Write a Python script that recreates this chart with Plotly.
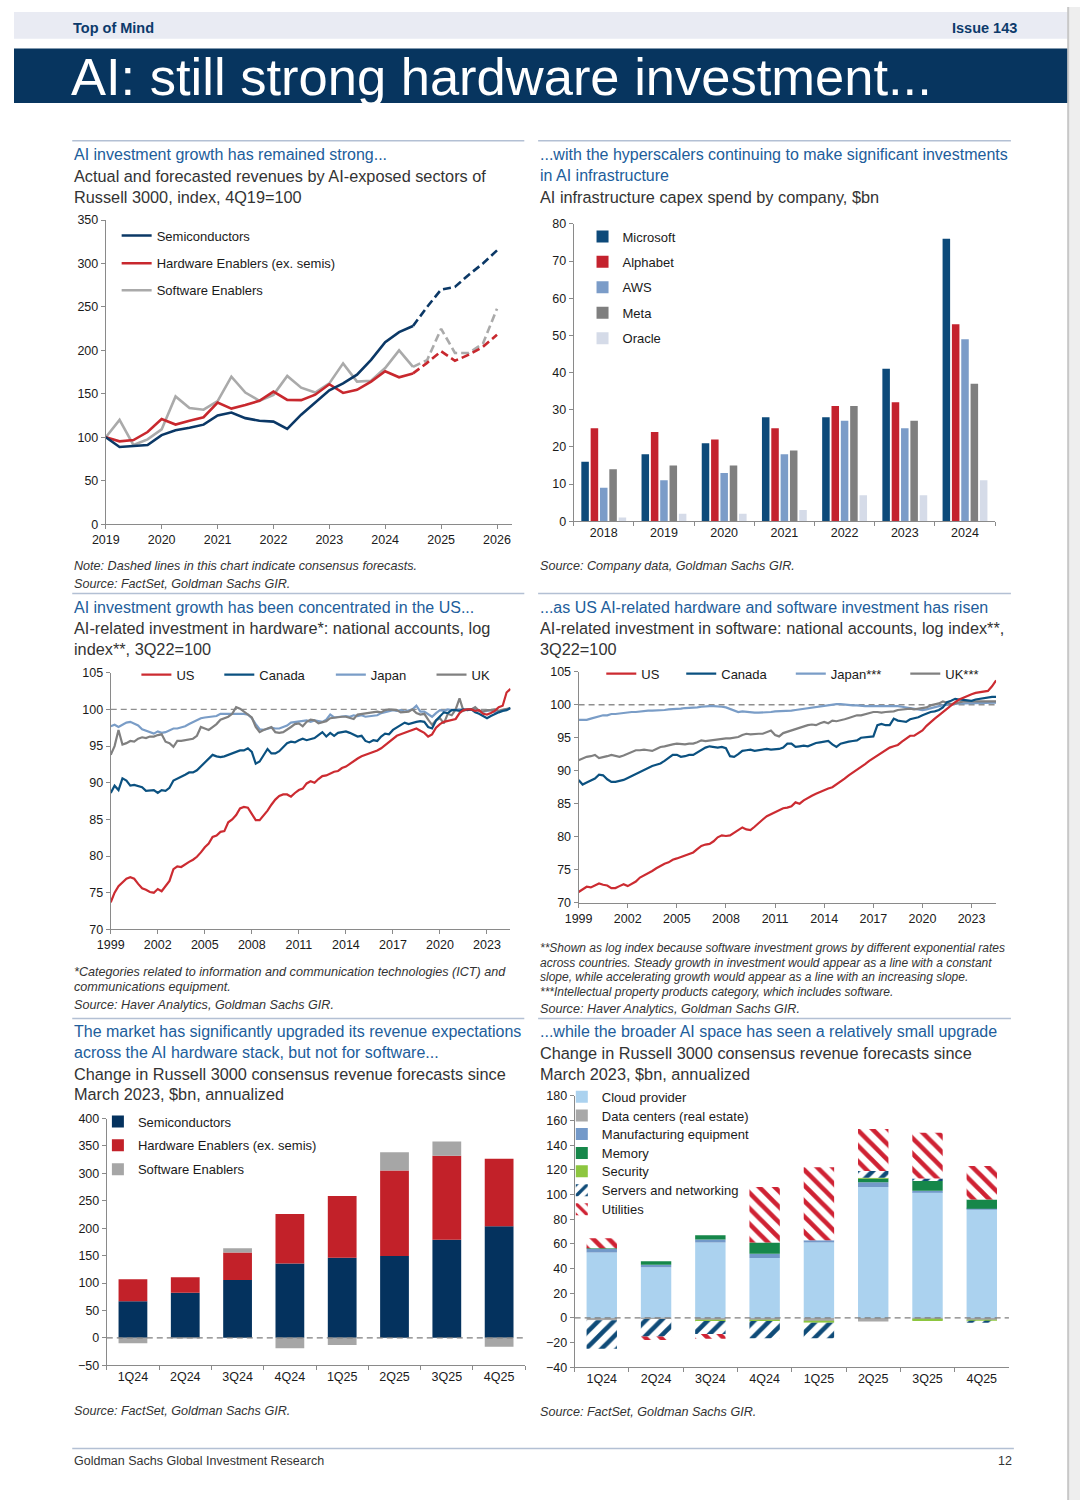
import numpy as np
import pandas as pd
import plotly.graph_objects as go

W, H = 1080, 1507
FONT = "Liberation Sans, Arial, Helvetica, sans-serif"

# ---------------- Chart 1: revenue index (quarterly, 2019 -> 2026) ----------------
c1_start = "2019-01-01"
c1_last_actual = 22
semis_idx = [100, 88.8, 90, 91, 102.5, 108, 111, 114.5, 125, 128.5, 122, 119, 118, 109.7,
             126, 140, 154, 162, 172, 189, 209.5, 221, 228, 250, 270, 273, 287, 300, 315]
hwen_idx = [100, 95.3, 96.8, 106, 121, 114.6, 119, 123, 140, 133, 137, 142, 152.6, 143,
            142.7, 149, 161, 151, 154.5, 164, 176, 169, 173.5, 185.6, 199, 188, 195, 204, 218]
swen_idx = [100, 120, 91, 97.5, 109, 147, 133.6, 131.7, 141.6, 169.7, 151.5, 142, 148.8, 170.5,
            157, 151.5, 162, 185, 164, 165, 179.6, 200, 181, 188.7, 224.8, 197, 197, 207.7, 248]

# ---------------- Chart 2: capex by company ----------------
capex_years = ["2018", "2019", "2020", "2021", "2022", "2023", "2024"]
microsoft = [16, 18, 21, 28, 28, 41, 76]
alphabet = [25, 24, 22, 25, 31, 32, 53]
aws = [9, 11, 13, 18, 27, 25, 49]
meta = [14, 15, 15, 19, 31, 27, 37]
oracle = [1, 2, 2, 3, 7, 7, 11]

# ---------------- Chart 3: hardware investment, log index (quarterly 1999Q1 -> 2024Q3) ----------------
log_start = "1999-01-01"
us_hw = [73.7, 75.0, 75.9, 76.4,
         76.9, 77.1, 76.9, 76.2,
         75.6, 75.4, 75.1, 75.0,
         75.5, 75.2, 75.9, 76.6,
         78.2, 78.6, 78.5, 78.9,
         79.2, 79.5, 79.9, 80.5,
         81.2, 81.7, 82.6, 82.8,
         83.3, 83.4, 84.6, 85.0,
         85.6, 86.5, 86.7, 86.6,
         85.8, 84.9, 84.9, 85.5,
         86.2, 87.0, 87.7, 88.2,
         88.4, 88.4, 88.1, 88.6,
         89.0, 89.2, 89.9, 90.2,
         90.0, 90.5, 90.9, 91.0,
         91.3, 91.5, 91.6, 92.0,
         92.2, 92.6, 92.9, 93.3,
         93.6, 93.8, 93.9, 94.1,
         94.4, 94.7, 95.1, 95.5,
         96.0, 96.4, 96.6, 96.8,
         97.0, 97.3, 97.4, 97.1,
         96.8, 96.3, 96.6, 97.5,
         98.0, 98.3, 98.4, 98.6,
         98.7, 99.5, 99.9, 100.0,
         100.0, 99.8, 99.9, 99.4,
         99.3, 99.5, 99.8, 100.3,
         100.5, 102.3, 102.8]
canada_hw = [88.6, 89.6, 89.0, 90.6,
             90.3, 89.6, 89.7, 89.5,
             89.4, 88.9, 88.9, 89.0,
             88.6, 89.0, 88.9, 89.3,
             90.3, 90.6, 90.8, 91.1,
             91.4, 91.4, 91.7, 92.2,
             92.8, 93.3, 93.8, 93.6,
             93.5, 93.6, 93.8, 93.9,
             94.1, 94.4, 94.4, 94.7,
             94.2, 92.6, 92.9, 93.8,
             94.6, 94.0, 94.0, 94.3,
             94.8, 95.4, 95.6, 95.5,
             95.8, 96.0, 95.8, 96.0,
             96.1, 96.5, 96.9, 96.3,
             96.8, 96.4, 96.8, 96.9,
             97.0, 96.8, 96.6, 96.3,
             96.4, 95.7, 95.5, 95.8,
             95.7, 96.3, 96.7, 96.6,
             97.2, 97.5, 97.8, 98.2,
             98.0, 98.2, 98.3, 98.4,
             98.3, 97.6, 97.4, 98.5,
             99.1, 99.6, 99.5, 99.9,
             99.9, 99.8, 100.0, 99.9,
             100.0, 99.6, 99.4, 99.1,
             98.8, 99.1, 99.4, 99.6,
             99.8, 99.9, 100.2]
japan_hw = [97.7, 97.9, 97.6, 97.9,
            98.2, 98.3, 98.1, 97.8,
            97.3, 97.1, 96.8, 96.7,
            97.0, 96.8, 96.9, 97.1,
            97.4, 97.4, 97.5, 97.7,
            98.0, 98.3, 98.6, 98.8,
            98.9, 99.0, 99.0, 99.1,
            99.4, 99.4, 99.5, 99.4,
            99.5, 99.5, 99.4, 99.3,
            98.8, 98.0, 97.3, 97.2,
            97.4, 97.5, 97.4, 97.4,
            97.6, 97.8, 98.2, 98.3,
            98.3, 98.4, 98.5, 98.3,
            98.5, 98.4, 98.3, 98.6,
            99.3, 98.9, 99.0, 99.0,
            99.1, 99.0, 99.2, 99.1,
            99.2, 99.0, 99.1, 99.2,
            99.2, 99.5, 99.6, 99.7,
            99.9, 99.8, 99.9, 99.7,
            99.9, 100.0, 100.5, 99.7,
            99.7, 99.3, 99.0, 99.5,
            99.9, 99.8, 100.0, 99.9,
            100.0, 100.0, 99.9, 100.0,
            100.0, 100.1, 99.8, 99.7,
            99.8, 99.9, 99.6, 99.8,
            99.9, 100.0, 100.1]
uk_hw = [93.8, 95.0, 97.2, 95.2,
         95.4, 95.7, 95.6, 96.0,
         96.2, 96.1, 96.3, 96.3,
         96.5, 96.6, 95.6, 95.4,
         94.9, 95.7, 95.7, 95.8,
         95.8, 96.0, 96.4, 97.6,
         97.4, 97.2, 97.6, 98.0,
         98.6, 98.8, 99.0, 99.4,
         100.3, 100.1, 99.7, 99.3,
         98.9, 97.6, 96.9, 97.2,
         97.4, 97.6, 96.9, 96.8,
         96.9, 97.2, 97.6, 98.0,
         98.1, 97.7, 98.3, 98.6,
         98.5, 98.1, 98.3, 98.4,
         98.8, 98.9, 98.9, 99.0,
         99.0, 98.8, 98.7, 99.3,
         99.4, 99.4, 99.6, 99.7,
         99.7, 99.6, 99.9, 100.0,
         99.9, 99.9, 99.6, 99.6,
         99.7, 100.0, 99.5, 99.3,
         99.4, 98.6, 97.9, 98.5,
         98.8, 98.1, 99.4, 99.2,
         100.0, 101.5, 99.8, 100.0,
         100.0, 100.3, 99.8, 99.7,
         99.9, 99.9, 100.0, 99.8,
         99.9, 100.0, 100.2]

# ---------------- Chart 4: software investment, log index ----------------
us_sw = [71.6, 72.0, 72.4, 72.3,
         72.6, 72.9, 72.7, 72.6,
         72.2, 72.2, 72.5, 72.8,
         72.5, 72.8, 73.2, 73.8,
         74.1, 74.5, 74.8, 75.2,
         75.6, 75.9, 76.1, 76.5,
         76.7, 76.9, 77.1, 77.3,
         77.6, 78.1, 78.6, 78.8,
         78.9, 79.3, 79.9, 80.2,
         80.1, 80.2, 80.6, 81.0,
         81.4, 81.1, 81.0, 81.5,
         82.1, 82.6, 83.1, 83.4,
         83.6, 84.0, 84.3, 84.4,
         84.6, 85.2, 85.0, 85.5,
         85.9, 86.2, 86.5, 86.8,
         87.1, 87.3, 87.5, 87.9,
         88.4, 88.8, 89.3, 89.7,
         90.1, 90.6, 91.0, 91.5,
         91.9, 92.3, 92.8, 93.2,
         93.5, 93.7, 93.9, 94.4,
         94.9, 95.3, 95.3, 95.7,
         96.1, 96.8, 97.4, 97.9,
         98.4, 98.9, 99.5, 100.0,
         100.4, 100.8, 101.1, 101.4,
         101.6, 101.8, 101.9, 102.0,
         102.1, 102.8, 103.7]
canada_sw = [88.6, 87.9, 88.2, 88.5,
             88.8, 89.4, 89.3, 88.7,
             88.3, 88.3, 88.4, 88.6,
             88.9, 89.2, 89.5, 89.8,
             90.1, 90.5, 90.7, 90.9,
             91.1, 91.5, 92.0, 92.4,
             92.4, 92.1, 92.2, 92.4,
             92.4, 92.8, 93.2, 93.5,
             93.7, 93.6, 93.5, 93.6,
             93.4, 92.2, 92.1, 92.5,
             93.0, 93.1, 93.2, 93.0,
             93.1, 93.2, 93.3, 93.2,
             93.2, 93.3, 93.5, 94.1,
             94.1, 93.6, 93.7, 93.8,
             93.7, 94.0, 94.2, 94.3,
             94.4, 94.5, 94.0, 93.6,
             94.1, 94.3, 94.4, 94.5,
             94.6, 95.0, 95.1, 95.1,
             95.2, 96.9, 97.1, 96.9,
             96.9, 97.9, 97.6, 97.5,
             97.4, 97.8, 97.9, 98.1,
             98.4, 98.7, 98.9, 99.0,
             99.2, 99.6, 100.4, 100.6,
             100.9, 100.8, 100.7, 100.6,
             100.6, 100.8, 100.9, 101.0,
             101.2, 101.2, 101.2]
japan_sw = [97.7, 97.7, 97.7, 97.9,
            98.1, 98.2, 98.4, 98.4,
            98.6, 98.6, 98.7, 98.8,
            98.8, 98.9, 98.9, 99.0,
            99.0, 99.1, 99.1, 99.1,
            99.2, 99.2, 99.3, 99.3,
            99.4, 99.4, 99.5, 99.5,
            99.6, 99.6, 99.7, 99.8,
            99.8, 99.8, 99.8, 99.7,
            99.6, 99.4, 99.2, 98.9,
            99.0, 98.9, 98.9, 98.8,
            98.8, 98.8, 98.9, 98.9,
            99.0, 99.0, 99.1, 99.1,
            99.1, 99.2, 99.3, 99.4,
            99.5, 99.6, 99.7, 99.8,
            99.9, 100.0, 100.0, 100.1,
            100.1, 100.0, 99.9, 99.9,
            99.9, 99.8, 99.8, 99.8,
            99.8, 99.8, 99.8, 99.9,
            99.9, 99.8, 99.8, 99.7,
            99.6, 99.5, 99.4, 99.3,
            99.2, 99.3, 99.5, 99.7,
            99.8, 99.9, 100.0, 100.1,
            100.1, 100.2, 100.2, 100.2,
            100.2, 100.2, 100.3, 100.3,
            100.3, 100.3, 100.3]
uk_sw = [91.6, 91.9, 92.1, 92.2,
         92.4, 91.9, 92.0, 92.2,
         92.4, 92.3, 92.1, 92.3,
         92.6, 92.8, 93.1, 93.1,
         93.2, 93.1, 93.0, 93.3,
         93.6, 93.7, 93.9, 94.0,
         94.1, 94.0, 94.0, 94.1,
         94.1, 94.3, 94.6, 94.5,
         94.6, 94.7, 94.8, 94.9,
         94.9, 94.9, 95.0, 95.1,
         95.4, 95.6, 95.5, 95.6,
         95.6, 95.6, 95.8, 96.1,
         95.4, 95.2, 95.7, 95.9,
         96.1, 96.4, 96.6, 96.7,
         96.9, 97.0, 96.9, 97.2,
         97.4, 97.2, 97.6, 97.5,
         97.6, 97.8, 98.0, 98.2,
         98.4, 98.4, 98.6, 98.8,
         98.9, 98.9, 98.8, 98.9,
         98.9, 99.0, 99.2, 99.3,
         99.4, 99.4, 99.3, 99.4,
         99.4, 99.6, 99.9, 100.0,
         100.2, 100.5, 100.3, 100.1,
         100.2, 100.4, 100.5, 100.5,
         100.5, 100.6, 100.5, 100.5,
         100.5, 100.5, 100.5]

# ---------------- Chart 5: revenue forecast changes (AI stack) ----------------
quarters = ["1Q24", "2Q24", "3Q24", "4Q24", "1Q25", "2Q25", "3Q25", "4Q25"]
semis_chg = [67, 82.5, 105.5, 135.5, 146, 149.5, 179, 203.5]
hwen_chg = [40, 28, 50, 90.5, 113, 156, 153, 123]
swen_chg = [-10, -1, 8, -19, -13, 33, 26, -16]

# ---------------- Chart 6: revenue forecast changes (broader AI space) ----------------
cloud_chg = [53, 41, 61, 48.5, 61, 106, 102, 88]
datacenter_chg = [-2, -1, -2, -2, -3, -3, -1.5, -2]
manufacturing_chg = [3, 2, 2.5, 3.5, 2, 4, 1, 0.5]
memory_chg = [0.5, 3, 3.5, 9, 0, 3, 8, 7.5]
security_chg = [0, 0, -0.5, -0.5, -1, 0.5, -1, -1]
servers_chg = [-23, -14, -10.5, -14, -12.5, 5.5, 2, -1]
utilities_chg = [8, -3, -4, 45, 59, 34, 37, 27]

# =====================================================================
def px_x(p):
    return p / W


def px_y(p):
    return 1 - p / H


fig = go.Figure()
annotations = []
shapes = []
legends = {}
LEG_TX = 41  # distance from legend box left edge to item text


def new_legend(text_x, y_px, size=13):
    n = len(legends) + 1
    name = "legend" if n == 1 else "legend%d" % n
    legends[name] = dict(x=px_x(text_x - LEG_TX), y=px_y(y_px), xanchor="left", yanchor="middle",
                         bgcolor="rgba(0,0,0,0)", borderwidth=0, orientation="v",
                         font=dict(family=FONT, size=size, color="#1a1a1a"),
                         itemclick=False, itemdoubleclick=False)
    return name


def text(x, y, s, size=16, color="#333333", family=FONT, xanchor="left", italic=False, bold=False):
    if italic:
        s = "<i>%s</i>" % s
    if bold:
        s = "<b>%s</b>" % s
    annotations.append(dict(xref="paper", yref="paper", x=px_x(x), y=px_y(y), text=s, showarrow=False,
                            xanchor=xanchor, yanchor="middle", align="left",
                            font=dict(family=family, size=size, color=color)))


def rect(x0, y0, x1, y1, color):
    shapes.append(dict(type="rect", xref="paper", yref="paper", x0=px_x(x0), x1=px_x(x1),
                       y0=px_y(y1), y1=px_y(y0), fillcolor=color, line=dict(width=0), layer="below"))


def hline(x0, x1, y, color="#b3c0d4", width=1.5):
    shapes.append(dict(type="line", xref="paper", yref="paper", x0=px_x(x0), x1=px_x(x1),
                       y0=px_y(y), y1=px_y(y), line=dict(color=color, width=width)))


def stack_bases(series_list):
    n = len(series_list[0])
    pos = np.zeros(n)
    neg = np.zeros(n)
    out = []
    for vals in series_list:
        v = np.array(vals, dtype=float)
        out.append(np.where(v >= 0, pos, neg))
        pos = pos + np.where(v > 0, v, 0)
        neg = neg + np.where(v < 0, v, 0)
    return out


AX = dict(showline=True, linecolor="#8a8a8a", linewidth=1, ticks="outside", ticklen=4,
          tickcolor="#8a8a8a", tickwidth=1, showgrid=False, zeroline=False, fixedrange=True,
          tickfont=dict(family=FONT, size=12.5, color="#1a1a1a"))

# ---------------- page furniture ----------------
rect(0, 5, 1068, 32, "#e9ebf3")
rect(0, 42, 1068, 97, "#07355f")
rect(1068, 0, 1080, H, "#eeeeee")
shapes.append(dict(type="line", xref="paper", yref="paper", x0=px_x(1068), x1=px_x(1068), y0=0, y1=1,
                   line=dict(color="#c8c8c8", width=2)))
text(58, 21, "Top of Mind", 14.5, "#0c3a6b", bold=True)
text(1018, 21, "Issue 143", 14.5, "#0c3a6b", xanchor="right", bold=True)
text(56, 70, "AI: still strong hardware investment...", 52.5, "#ffffff")

BLUE = "#215d9b"
SUB = "#333333"
SUBSZ = 16.3
NOTE = 12.6
# row 1
hline(59, 517, 135)
hline(531, 1010, 135)
text(59, 149, "AI investment growth has remained strong...", 16, BLUE)
text(59, 171, "Actual and forecasted revenues by AI-exposed sectors of", SUBSZ, SUB)
text(59, 192, "Russell 3000, index, 4Q19=100", SUBSZ, SUB)
text(531, 149, "...with the hyperscalers continuing to make significant investments", 16, BLUE)
text(531, 170, "in AI infrastructure", 16, BLUE)
text(531, 192, "AI infrastructure capex spend by company, $bn", SUBSZ, SUB)
text(59, 564, "Note: Dashed lines in this chart indicate consensus forecasts.", NOTE, SUB, italic=True)
text(59, 582, "Source: FactSet, Goldman Sachs GIR.", NOTE, SUB, italic=True)
text(531, 564, "Source: Company data, Goldman Sachs GIR.", NOTE, SUB, italic=True)
# row 2
hline(59, 517, 592)
hline(531, 1010, 592)
text(59, 606, "AI investment growth has been concentrated in the US...", 16, BLUE)
text(59, 627, "AI-related investment in hardware*: national accounts, log", SUBSZ, SUB)
text(59, 648, "index**, 3Q22=100", SUBSZ, SUB)
text(531, 606, "...as US AI-related hardware and software investment has risen", 16, BLUE)
text(531, 627, "AI-related investment in software: national accounts, log index**,", SUBSZ, SUB)
text(531, 648, "3Q22=100", SUBSZ, SUB)
text(59, 974, "*Categories related to information and communication technologies (ICT) and", NOTE, SUB, italic=True)
text(59, 989, "communications equipment.", NOTE, SUB, italic=True)
text(59, 1007, "Source: Haver Analytics, Goldman Sachs GIR.", NOTE, SUB, italic=True)
text(531, 950, "**Shown as log index because software investment grows by different exponential rates", 12, SUB, italic=True)
text(531, 965, "across countries. Steady growth in investment would appear as a line with a constant", 12, SUB, italic=True)
text(531, 979, "slope, while accelerating growth would appear as a line with an increasing slope.", 12, SUB, italic=True)
text(531, 994, "***Intellectual property products category, which includes software.", 12, SUB, italic=True)
text(531, 1011, "Source: Haver Analytics, Goldman Sachs GIR.", NOTE, SUB, italic=True)
# row 3
hline(59, 517, 1021)
hline(531, 1010, 1021)
text(59, 1034, "The market has significantly upgraded its revenue expectations", 16, BLUE)
text(59, 1055, "across the AI hardware stack, but not for software...", 16, BLUE)
text(59, 1077, "Change in Russell 3000 consensus revenue forecasts since", SUBSZ, SUB)
text(59, 1097, "March 2023, $bn, annualized", SUBSZ, SUB)
text(531, 1034, "...while the broader AI space has seen a relatively small upgrade", 16, BLUE)
text(531, 1056, "Change in Russell 3000 consensus revenue forecasts since", SUBSZ, SUB)
text(531, 1077, "March 2023, $bn, annualized", SUBSZ, SUB)
text(59, 1417, "Source: FactSet, Goldman Sachs GIR.", NOTE, SUB, italic=True)
text(531, 1418, "Source: FactSet, Goldman Sachs GIR.", NOTE, SUB, italic=True)
# footer
hline(59, 1013, 1455)
text(59, 1468, "Goldman Sachs Global Investment Research", 12.5, SUB)
text(1013, 1468, "12", 12.5, SUB, xanchor="right")

# ---------------- Chart 1 ----------------
d1 = pd.date_range(c1_start, periods=len(semis_idx), freq="QS")
c1_series = [("Semiconductors", semis_idx, "#0b3866", 230.7),
             ("Hardware Enablers (ex. semis)", hwen_idx, "#c8282e", 258.7),
             ("Software Enablers", swen_idx, "#aaaaaa", 286)]
for name, vals, col, ly in c1_series[::-1]:
    fc = [v if i >= c1_last_actual else None for i, v in enumerate(vals)]
    fig.add_trace(go.Scatter(x=d1, y=fc, mode="lines", line=dict(color=col, width=2.6, dash="8px,4px"),
                             showlegend=False, xaxis="x", yaxis="y", hoverinfo="skip"))
for name, vals, col, ly in c1_series[::-1]:
    act = [v if i <= c1_last_actual else None for i, v in enumerate(vals)]
    fig.add_trace(go.Scatter(x=d1, y=act, mode="lines", name=name, line=dict(color=col, width=2.6),
                             legend=new_legend(145, ly), xaxis="x", yaxis="y"))

# ---------------- Chart 2 ----------------
BW2, STEP2 = 0.125, 0.155
c2_series = [("Microsoft", microsoft, "#0d4a7a", 231.7), ("Alphabet", alphabet, "#c4222e", 257.3),
             ("AWS", aws, "#7b9cc8", 283), ("Meta", meta, "#7f7f7f", 308.7),
             ("Oracle", oracle, "#d5dbe8", 334.3)]
for k, (name, vals, col, ly) in enumerate(c2_series):
    fig.add_trace(go.Bar(x=capex_years, y=vals, name=name, marker=dict(color=col, line=dict(width=0)),
                         width=BW2, offset=-2.5 * STEP2 + (STEP2 - BW2) / 2 + k * STEP2,
                         legend=new_legend(617, ly), xaxis="x2", yaxis="y2"))

# ---------------- Chart 3 & 4 ----------------
dlog = pd.date_range(log_start, periods=len(us_hw), freq="QS")
c3 = [("Japan", japan_hw, "#7a9dc7", 362), ("UK", uk_hw, "#808080", 464),
      ("Canada", canada_hw, "#0b5180", 249), ("US", us_hw, "#cc2b31", 165)]
for name, vals, col, lx in c3:
    fig.add_trace(go.Scatter(x=dlog, y=vals, mode="lines", name=name, line=dict(color=col, width=2.2),
                             legend=new_legend(lx, 674), xaxis="x3", yaxis="y3"))
c4 = [("Japan***", japan_sw, "#7a9dc7", 828), ("UK***", uk_sw, "#808080", 944),
      ("Canada", canada_sw, "#0b5180", 717), ("US", us_sw, "#cc2b31", 636)]
for name, vals, col, lx in c4:
    fig.add_trace(go.Scatter(x=dlog, y=vals, mode="lines", name=name, line=dict(color=col, width=2.2),
                             legend=new_legend(lx, 673), xaxis="x4", yaxis="y4"))

# ---------------- Chart 5 ----------------
c5 = [("Semiconductors", semis_chg, "#04325e", 1125), ("Hardware Enablers (ex. semis)", hwen_chg, "#c22129", 1149),
      ("Software Enablers", swen_chg, "#a6a6a6", 1173.3)]
b5 = stack_bases([s[1] for s in c5])
for (name, vals, col, ly), base in zip(c5, b5):
    fig.add_trace(go.Bar(x=quarters, y=vals, base=base, name=name, width=0.55,
                         marker=dict(color=col, line=dict(width=0)),
                         legend=new_legend(126, ly), xaxis="x5", yaxis="y5"))

# ---------------- Chart 6 ----------------
c6 = [("Cloud provider", cloud_chg, "#abd2ef", None, 1100),
      ("Data centers (real estate)", datacenter_chg, "#a8a8a8", None, 1119),
      ("Manufacturing equipment", manufacturing_chg, "#7399c9", None, 1137.7),
      ("Memory", memory_chg, "#16874a", None, 1156.7),
      ("Security", security_chg, "#8dc63f", None, 1175.3),
      ("Servers and networking", servers_chg, "#0f4b78", "/", 1194.3),
      ("Utilities", utilities_chg, "#cf2233", "\\", 1213.7)]
b6 = stack_bases([s[1] for s in c6])
for (name, vals, col, pat, ly), base in zip(c6, b6):
    mk = dict(color=col, line=dict(width=0))
    if pat:
        mk["pattern"] = dict(shape=pat, fgcolor=col, bgcolor="white", size=11, solidity=0.42, fillmode="replace")
    fig.add_trace(go.Bar(x=quarters, y=vals, base=base, name=name, width=0.56, marker=mk,
                         legend=new_legend(596, ly), xaxis="x6", yaxis="y6"))

# reference lines
shapes.append(dict(type="line", xref="x3 domain", x0=0, x1=1, yref="y3", y0=100, y1=100, layer="below",
                   line=dict(color="#8f8f8f", width=1.3, dash="6px,4px")))
shapes.append(dict(type="line", xref="x4 domain", x0=0, x1=1, yref="y4", y0=100, y1=100, layer="below",
                   line=dict(color="#8f8f8f", width=1.3, dash="6px,4px")))
shapes.append(dict(type="line", xref="x5 domain", x0=0, x1=1, yref="y5", y0=0, y1=0,
                   line=dict(color="#7f7f7f", width=1.3, dash="6px,4px")))
shapes.append(dict(type="line", xref="x6 domain", x0=0, x1=1, yref="y6", y0=0, y1=0,
                   line=dict(color="#7f7f7f", width=1.3, dash="6px,4px")))


def xdom(a, b):
    return [px_x(a), px_x(b)]


def ydom(top, bottom):
    return [px_y(bottom), px_y(top)]


layout = dict(
    width=W, height=H, autosize=False, margin=dict(l=0, r=0, t=0, b=0),
    paper_bgcolor="white", plot_bgcolor="rgba(0,0,0,0)", barmode="overlay",
    font=dict(family=FONT, color="#1a1a1a"), hovermode=False,
    annotations=annotations, shapes=shapes,
    xaxis=dict(AX, type="date", domain=xdom(93, 505), anchor="y", range=["2019-01-01", "2026-04-12"],
               tick0="2019-01-01", dtick="M12", tickformat="%Y"),
    yaxis=dict(AX, domain=ydom(215, 522), anchor="x", range=[0, 350], dtick=50),
    xaxis2=dict(AX, type="category", domain=xdom(567, 994), anchor="y2", tickson="boundaries"),
    yaxis2=dict(AX, domain=ydom(219, 519), anchor="x2", range=[0, 80], dtick=10),
    xaxis3=dict(AX, type="date", domain=xdom(98, 503), anchor="y3", range=["1999-01-01", "2024-07-01"],
                tick0="1999-01-01", dtick="M36", tickformat="%Y"),
    yaxis3=dict(AX, domain=ydom(672, 931), anchor="x3", range=[70, 105], dtick=5),
    xaxis4=dict(AX, type="date", domain=xdom(572, 995), anchor="y4", range=["1999-01-01", "2024-07-01"],
                tick0="1999-01-01", dtick="M36", tickformat="%Y"),
    yaxis4=dict(AX, domain=ydom(671, 904), anchor="x4", range=[70, 105], dtick=5),
    xaxis5=dict(AX, type="category", domain=xdom(94, 518), anchor="y5", tickson="boundaries"),
    yaxis5=dict(AX, domain=ydom(1122, 1371), anchor="x5", range=[-50, 400], dtick=50),
    xaxis6=dict(AX, type="category", domain=xdom(568, 1008), anchor="y6", tickson="boundaries"),
    yaxis6=dict(AX, domain=ydom(1099, 1373), anchor="x6", range=[-40, 180], dtick=20),
)
layout.update(legends)
fig.update_layout(**layout)

fig.write_html("out.html", include_plotlyjs=True, full_html=True, config={"displayModeBar": False},
               post_script="document.body.style.margin='0';document.body.style.overflow='hidden';")
